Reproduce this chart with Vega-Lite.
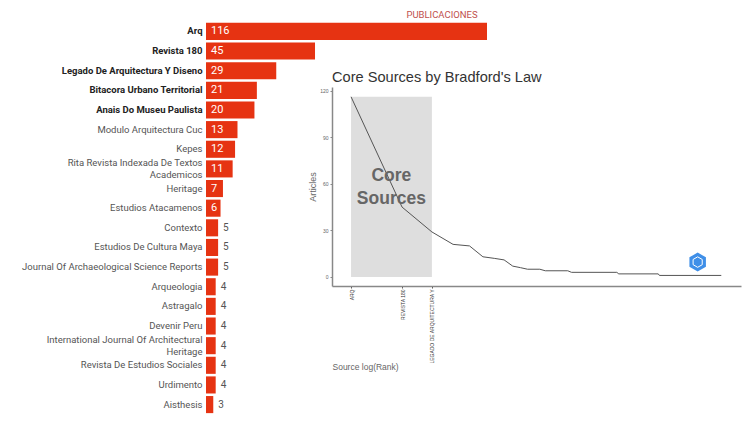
{
  "$schema": "https://vega.github.io/schema/vega-lite/v6.json",
  "width": 752,
  "height": 427,
  "padding": 0,
  "autosize": "none",
  "background": "white",
  "title": {
    "text": "Core Sources by Bradford's Law",
    "font": "Liberation Sans",
    "fontSize": 14.6,
    "fontWeight": "normal",
    "color": "#333333",
    "anchor": "start",
    "frame": "group",
    "dx": 332,
    "dy": 89
  },
  "datasets": {
    "publicaciones": [
      { "source": "Arq", "n": 116 },
      { "source": "Revista 180", "n": 45 },
      { "source": "Legado De Arquitectura Y Diseno", "n": 29 },
      { "source": "Bitacora Urbano Territorial", "n": 21 },
      { "source": "Anais Do Museu Paulista", "n": 20 },
      { "source": "Modulo Arquitectura Cuc", "n": 13 },
      { "source": "Kepes", "n": 12 },
      { "source": "Rita Revista Indexada De Textos|Academicos", "n": 11 },
      { "source": "Heritage", "n": 7 },
      { "source": "Estudios Atacamenos", "n": 6 },
      { "source": "Contexto", "n": 5 },
      { "source": "Estudios De Cultura Maya", "n": 5 },
      { "source": "Journal Of Archaeological Science Reports", "n": 5 },
      { "source": "Arqueologia", "n": 4 },
      { "source": "Astragalo", "n": 4 },
      { "source": "Devenir Peru", "n": 4 },
      { "source": "International Journal Of Architectural|Heritage", "n": 4 },
      { "source": "Revista De Estudios Sociales", "n": 4 },
      { "source": "Urdimento", "n": 4 },
      { "source": "Aisthesis", "n": 3 }
    ],
    "bradford": [
      { "rank": 1, "articles": 116 },
      { "rank": 2, "articles": 45 },
      { "rank": 3, "articles": 29 },
      { "rank": 4, "articles": 21 },
      { "rank": 5, "articles": 20 },
      { "rank": 6, "articles": 13 },
      { "rank": 7, "articles": 12 },
      { "rank": 8, "articles": 11 },
      { "rank": 9, "articles": 7 },
      { "rank": 10, "articles": 6 },
      { "rank": 11, "articles": 5 },
      { "rank": 13, "articles": 5 },
      { "rank": 14, "articles": 4 },
      { "rank": 19, "articles": 4 },
      { "rank": 20, "articles": 3 },
      { "rank": 37, "articles": 3 },
      { "rank": 38, "articles": 2 },
      { "rank": 65, "articles": 2 },
      { "rank": 66, "articles": 1 },
      { "rank": 153, "articles": 1 }
    ]
  },
  "layer": [
    {
      "data": { "name": "publicaciones" },
      "encoding": {
        "y": {
          "field": "source",
          "type": "nominal",
          "sort": null,
          "scale": { "range": [21.5, 414.5], "paddingInner": 0.13, "paddingOuter": 0.07 },
          "axis": {
            "title": null,
            "orient": "left",
            "offset": -206,
            "domain": false,
            "ticks": false,
            "grid": false,
            "labelPadding": 4,
            "labelFont": "Roboto",
            "labelFontSize": 9.5,
            "labelLimit": 300,
            "labelLineHeight": 12,
            "labelColor": { "expr": "datum.index < 0.24 ? '#222222' : '#555555'" },
            "labelFontWeight": { "expr": "datum.index < 0.24 ? 'bold' : 'normal'" },
            "labelOffset": { "condition": { "test": "indexof(datum.value, '|') > 0", "value": -6 }, "value": 0 },
            "labelExpr": "split(datum.value, '|')"
          }
        },
        "x": {
          "field": "n",
          "type": "quantitative",
          "scale": { "domain": [0, 116], "range": [206, 487] },
          "axis": {
            "orient": "top",
            "title": "PUBLICACIONES",
            "titleFont": "Roboto",
            "titleFontSize": 9.5,
            "titleFontWeight": "normal",
            "titleColor": "#c0504d",
            "titleX": 441.5,
            "titleY": 19,
            "titleAlign": "center",
            "domain": false,
            "ticks": false,
            "labels": false,
            "grid": false
          }
        }
      },
      "layer": [
        { "mark": { "type": "bar", "color": "#e63312" } },
        {
          "transform": [{ "filter": "datum.n >= 6" }],
          "mark": {
            "type": "text",
            "align": "left",
            "dx": 5,
            "color": "white",
            "font": "Roboto",
            "fontSize": 11
          },
          "encoding": {
            "x": { "datum": 0 },
            "text": { "field": "n", "type": "quantitative" }
          }
        },
        {
          "transform": [{ "filter": "datum.n < 6" }],
          "mark": {
            "type": "text",
            "align": "left",
            "dx": 5,
            "color": "#555555",
            "font": "Roboto",
            "fontSize": 10
          },
          "encoding": { "text": { "field": "n", "type": "quantitative" } }
        }
      ]
    },
    {
      "data": { "name": "bradford" },
      "encoding": {
        "x": {
          "field": "rank",
          "type": "quantitative",
          "scale": { "type": "log", "domain": [0.772, 200], "range": [332, 741] },
          "axis": {
            "orient": "bottom",
            "offset": -141,
            "values": [1, 2, 3],
            "labelExpr": "datum.value == 1 ? 'ARQ' : datum.value == 2 ? 'REVISTA 180' : 'LEGADO DE ARQUITECTURA Y'",
            "labelAngle": 270,
            "labelAlign": "right",
            "labelBaseline": "middle",
            "labelFont": "Liberation Sans",
            "labelFontSize": 5,
            "labelColor": "#333333",
            "labelLimit": 200,
            "labelPadding": 1,
            "labelOverlap": false,
            "grid": false,
            "domainColor": "#888888",
            "domainWidth": 1.5,
            "tickColor": "#555555",
            "tickSize": 2,
            "title": "Source log(Rank)",
            "titleFont": "Liberation Sans",
            "titleFontSize": 8.5,
            "titleFontWeight": "normal",
            "titleColor": "#666666",
            "titleAlign": "left",
            "titleX": 332,
            "titleY": 76
          }
        },
        "y": {
          "field": "articles",
          "type": "quantitative",
          "scale": { "domain": [-5.8, 122.3], "range": [286, 87], "nice": false, "zero": false },
          "axis": {
            "orient": "left",
            "offset": -332,
            "values": [0, 30, 60, 90, 120],
            "labelFont": "Liberation Sans",
            "labelFontSize": 5,
            "labelColor": "#666666",
            "labelPadding": 2,
            "grid": false,
            "domainColor": "#888888",
            "domainWidth": 1.5,
            "tickColor": "#888888",
            "tickSize": 2,
            "title": "Articles",
            "titleFont": "Liberation Sans",
            "titleFontSize": 9,
            "titleFontWeight": "normal",
            "titleColor": "#666666",
            "titlePadding": 2
          }
        }
      },
      "layer": [
        {
          "data": { "values": [{ "from": 1, "to": 3, "low": 0, "high": 116 }] },
          "mark": { "type": "rect", "color": "#dedede" },
          "encoding": {
            "x": { "field": "from", "type": "quantitative" },
            "x2": { "field": "to" },
            "y": { "field": "low", "type": "quantitative" },
            "y2": { "field": "high" }
          }
        },
        { "mark": { "type": "line", "color": "#555555", "strokeWidth": 1 } },
        {
          "data": { "values": [{ "rank": 1.73, "articles": 65, "label": "Core|Sources" }] },
          "mark": {
            "type": "text",
            "lineBreak": "|",
            "lineHeight": 23,
            "font": "Liberation Sans",
            "fontSize": 17.5,
            "fontWeight": "bold",
            "color": "#666666"
          },
          "encoding": { "text": { "field": "label" } }
        },
        {
          "data": { "values": [{ "rank": 111, "articles": 9.6 }] },
          "mark": {
            "type": "point",
            "shape": "M0,-1L.87,-.5L.87,.5L0,1L-.87,.5L-.87,-.5Z",
            "size": 360,
            "filled": true,
            "color": "#3f8fe8",
            "opacity": 1
          }
        },
        {
          "data": { "values": [{ "rank": 111, "articles": 9.6 }] },
          "mark": {
            "type": "point",
            "shape": "M0,-1L.87,-.5L.87,.5L0,1L-.87,.5L-.87,-.5Z",
            "size": 110,
            "filled": false,
            "color": "white",
            "strokeWidth": 1,
            "opacity": 1
          }
        }
      ]
    }
  ],
  "resolve": {
    "scale": { "x": "independent", "y": "independent" },
    "axis": { "x": "independent", "y": "independent" }
  },
  "config": { "view": { "stroke": null } }
}
